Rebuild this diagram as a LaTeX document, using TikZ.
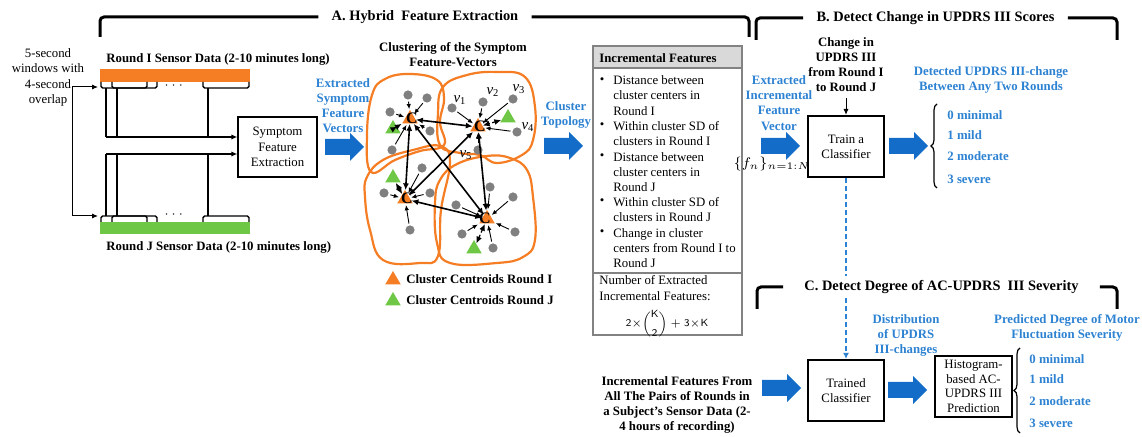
\documentclass[tikz,border=0pt]{standalone}
\usepackage{amsmath}
\usepackage{fontspec}
\setmainfont{Liberation Serif}
\usetikzlibrary{arrows.meta,shapes.geometric,decorations.pathreplacing}
\definecolor{orangeC}{RGB}{245,125,35}
\definecolor{greenC}{RGB}{110,200,70}
\definecolor{arrowblue}{RGB}{18,108,200}
\definecolor{textblue}{RGB}{45,130,210}
\definecolor{dotgray}{RGB}{128,128,128}
\definecolor{boxgray}{RGB}{130,130,130}
\definecolor{headgray}{RGB}{217,217,217}
\tikzset{
  txt/.style={font=\fontsize{6.4}{7.6}\selectfont, align=center, inner sep=0pt},
  btxt/.style={txt, font=\fontsize{6.4}{7.6}\selectfont\bfseries},
  bluetxt/.style={btxt, text=textblue},
  heading/.style={font=\fontsize{7.2}{8.6}\selectfont\bfseries, inner ysep=2pt, inner xsep=6.5pt},
  bracket/.style={line width=1.5pt, rounded corners=2pt},
  arr/.style={line width=0.5pt, -{Latex[length=3pt,width=2.6pt]}},
  win/.style={line width=0.7pt, rounded corners=0.8pt},
  procbox/.style={txt, draw, line width=1.1pt, minimum width=38pt, minimum height=30.5pt},
  blob/.style={draw=orangeC, line width=1.1pt},
  dot/.style={circle, fill=dotgray, minimum size=4.6pt, inner sep=0pt},
  cent/.style={regular polygon, regular polygon sides=3, fill=orangeC, minimum size=9pt, inner sep=0pt},
  gcent/.style={cent, fill=greenC},
  clab/.style={font=\fontsize{8}{8}\selectfont\bfseries, inner sep=0pt},
  vlab/.style={font=\fontsize{7.5}{8}\selectfont, inner sep=0pt},
  darr/.style={line width=0.45pt, -{Latex[length=2.6pt,width=2.2pt]}, shorten <=0.8pt, shorten >=0.6pt},
  clink/.style={line width=0.8pt, {Latex[length=3.4pt,width=3pt]}-{Latex[length=3.4pt,width=3pt]}},
  glink/.style={clink, line width=0.6pt, dash pattern=on 1.6pt off 1.2pt},
  dashblue/.style={draw=textblue, line width=0.8pt, dash pattern=on 2.5pt off 1.5pt, -{Latex[length=3pt,width=3pt]}},
  itembrace/.style={decorate, decoration={brace, amplitude=3pt}, line width=0.6pt},
  fatarrow/.pic={\fill[arrowblue] (0,-8) -- (25,-8) -- (25,-14) -- (39,0) -- (25,14) -- (25,8) -- (0,8) -- cycle;}
}
\begin{document}
\begin{tikzpicture}[x=0.5pt, y=-0.5pt]
  \useasboundingbox (0,0) rectangle (1142,437);
  % section headings
  \node[heading] (hA) at (425,17) {A. Hybrid\ \ Feature Extraction};
  \node[heading] (hB) at (935.5,18) {B. Detect Change in UPDRS III Scores};
  \draw[bracket] (100,37) -- (100,17) -- (hA.west);
  \draw[bracket] (hA.east) -- (749,17) -- (749,37);
  \draw[bracket] (756,40) -- (756,18) -- (hB.west);
  \draw[bracket] (hB.east) -- (1117,18) -- (1117,40);
  % sensor data rounds
  \node[fill=orangeC, minimum width=75pt, minimum height=6.5pt, inner sep=0pt] (barI) at (175,75.5) {};
  \node[fill=greenC, minimum width=75pt, minimum height=6pt, inner sep=0pt] (barJ) at (175,228) {};
  \node[btxt, anchor=west] (rI) at (106,59) {Round I Sensor Data (2-10 minutes long)};
  \node[btxt, anchor=west] (rJ) at (106,247) {Round J Sensor Data (2-10 minutes long)};
  \draw[win] (101,82) -- (101,88) -- (147,88) -- (147,82);
  \draw[win] (112,82) -- (112,88) -- (157,88) -- (157,82);
  \draw[win] (203,82) -- (203,88) -- (249,88) -- (249,82);
  \draw[win] (101,222) -- (101,216) -- (147,216) -- (147,222);
  \draw[win] (112,222) -- (112,216) -- (157,216) -- (157,222);
  \draw[win] (203,222) -- (203,216) -- (249,216) -- (249,222);
  \node[txt] (dotsI) at (175,86) {$\cdots$};
  \node[txt] (dotsJ) at (175,215) {$\cdots$};
  \node[txt] (win) at (48,77.5) {5-second\\windows with\\4-second\\overlap};
  \coordinate (wa) at (72,87);
  \coordinate (wc) at (72,216);
  \coordinate (wI) at (98,87);
  \coordinate (wJ) at (98,216);
  \draw[arr] (wa) -- (wI);
  \draw[arr] (wa) -- (wc) -- (wJ);
  \node[txt, draw, line width=0.6pt, minimum width=39.5pt, minimum height=30pt] (sfe) at (277.5,147) {Symptom\\Feature\\Extraction};
  \coordinate (tI) at (106,137);
  \coordinate (tJ) at (106,154);
  \draw[line width=0.8pt] (106,88) -- (tI);
  \draw[line width=0.8pt] (117,88) -- (117,137);
  \draw[line width=0.8pt] (208,88) -- (208,137);
  \draw[line width=0.8pt] (tJ) -- (106,216);
  \draw[line width=0.8pt] (117,154) -- (117,216);
  \draw[line width=0.8pt] (208,154) -- (208,216);
  \draw[arr, line width=0.8pt] (tI) -- (tI -| sfe.west);
  \draw[arr, line width=0.8pt] (tJ) -- (tJ -| sfe.west);
  \pic at (325,147) {fatarrow};
  \node[bluetxt] (esfv) at (343,105.5) {Extracted\\Symptom\\Feature\\Vectors};
  % clustering
  \node[btxt] (clt) at (453,54.5) {Clustering of the Symptom\\Feature-Vectors};
  \draw[blob] plot[smooth cycle, tension=0.7] coordinates {(372,95) (385,79) (410,74) (437,80) (444,98) (440,122) (444,145) (420,151) (395,160) (371,172) (367,135)};
  \draw[blob] plot[smooth cycle, tension=0.7] coordinates {(443,87) (467,75) (497,72) (525,77) (535,107) (533,140) (522,155) (497,163) (480,155) (460,153) (440,145) (438,113)};
  \draw[blob] plot[smooth cycle, tension=0.7] coordinates {(367,177) (383,160) (413,150) (440,146) (450,162) (441,210) (438,256) (420,263) (383,260) (370,230) (365,197)};
  \draw[blob] plot[smooth cycle, tension=0.7] coordinates {(440,180) (457,164) (487,156) (510,158) (527,170) (533,197) (535,240) (523,257) (497,263) (450,263) (437,243) (435,203)};
  \node[cent] (c1) at (410,119) {};
  \node[cent] (c2) at (478,127) {};
  \node[cent] (c3) at (405,199) {};
  \node[cent] (c4) at (487,219) {};
  \node[gcent] (g1) at (393,129) {};
  \node[gcent] (g2) at (508,118) {};
  \node[gcent] (g3) at (393,178) {};
  \node[gcent] (g4) at (474,249) {};
  \node[dot] (d1) at (408,95) {};
  \node[dot] (d2) at (427,98) {};
  \node[dot] (d3) at (390,112) {};
  \node[dot] (d4) at (430,131) {};
  \node[dot] (d5) at (392,150) {};
  \node[dot] (v1) at (452,108) {};
  \node[dot] (v2) at (483,102) {};
  \node[dot] (v3) at (513,99) {};
  \node[dot] (v4) at (517,132) {};
  \node[dot] (v5) at (478,150) {};
  \node[dot] (d6) at (422,168) {};
  \node[dot] (d7) at (384,193) {};
  \node[dot] (d8) at (430,193) {};
  \node[dot] (d9) at (410,230) {};
  \node[dot] (d10) at (490,187) {};
  \node[dot] (d11) at (513,197) {};
  \node[dot] (d12) at (456,205) {};
  \node[dot] (d13) at (515,232) {};
  \node[dot] (d14) at (462,234) {};
  \node[dot] (d15) at (493,248) {};
  \node[vlab] (v1l) at (460,100) {\textit{v}\textsubscript{1}};
  \node[vlab] (v2l) at (493,92) {\textit{v}\textsubscript{2}};
  \node[vlab] (v3l) at (519,89) {\textit{v}\textsubscript{3}};
  \node[vlab] (v4l) at (528,127) {\textit{v}\textsubscript{4}};
  \node[vlab] (v5l) at (466,155) {\textit{v}\textsubscript{5}};
  \draw[darr] (d1) -- (c1);
  \draw[darr] (d2) -- (c1);
  \draw[darr] (d3) -- (c1);
  \draw[darr] (d4) -- (c1);
  \draw[darr] (d5) -- (c1);
  \draw[darr] (v1) -- (c2);
  \draw[darr] (v2) -- (c2);
  \draw[darr] (v3) -- (c2);
  \draw[darr] (v4) -- (c2);
  \draw[darr] (v5) -- (c2);
  \draw[darr] (d6) -- (c3);
  \draw[darr] (d7) -- (c3);
  \draw[darr] (d8) -- (c3);
  \draw[darr] (d9) -- (c3);
  \draw[darr] (d10) -- (c4);
  \draw[darr] (d11) -- (c4);
  \draw[darr] (d12) -- (c4);
  \draw[darr] (d13) -- (c4);
  \draw[darr] (d14) -- (c4);
  \draw[darr] (d15) -- (c4);
  \draw[glink] (g1) -- (c1);
  \draw[glink] (g2) -- (c2);
  \draw[glink] (g3) -- (c3);
  \draw[glink] (g4) -- (c4);
  \draw[clink] (c1) -- (c2);
  \draw[clink] (c1) -- (c3);
  \draw[clink] (c1) -- (c4);
  \draw[clink] (c2) -- (c3);
  \draw[clink] (c2) -- (c4);
  \draw[clink] (c3) -- (c4);
  \node[clab] (c1l) at (412,118) {C};
  \node[clab] (c2l) at (480,126) {C};
  \node[clab] (c3l) at (407,198) {C};
  \node[clab] (c4l) at (485,218) {C};
  \node[cent] (legI) at (393,280) {};
  \node[gcent] (legJ) at (393,301) {};
  \node[btxt, anchor=west] (legIt) at (406,279) {Cluster Centroids Round I};
  \node[btxt, anchor=west] (legJt) at (406,300) {Cluster Centroids Round J};
  \node[bluetxt] (ctop) at (566,115) {Cluster\\Topology};
  \pic at (544,146) {fatarrow};
  % incremental features
  \node[draw=boxgray, line width=0.6pt, minimum width=74.5pt, minimum height=144.5pt, inner sep=0pt] (inc) at (667.5,190.5) {};
  \node[draw=boxgray, fill=headgray, line width=0.6pt, minimum width=74.5pt, minimum height=11pt, inner sep=0pt] (inchead) at (667.5,57) {};
  \node[btxt, anchor=west] (inct) at (599,58) {Incremental Features};
  \coordinate (divL) at (593,273);
  \coordinate (divR) at (742,273);
  \draw[boxgray, line width=0.6pt] (divL) -- (divR);
  \node[txt] (b1m) at (602,81) {\textbullet};
  \node[txt] (b2m) at (602,126) {\textbullet};
  \node[txt] (b3m) at (602,157) {\textbullet};
  \node[txt] (b4m) at (602,202) {\textbullet};
  \node[txt] (b5m) at (602,233) {\textbullet};
  \node[txt, align=left, anchor=west] (b1) at (613,95.5) {Distance between\\cluster centers in\\Round I};
  \node[txt, align=left, anchor=west] (b2) at (613,133.5) {Within cluster SD of\\clusters in Round I};
  \node[txt, align=left, anchor=west] (b3) at (613,172) {Distance between\\cluster centers in\\Round J};
  \node[txt, align=left, anchor=west] (b4) at (613,209.5) {Within cluster SD of\\clusters in Round J};
  \node[txt, align=left, anchor=west] (b5) at (613,248) {Change in cluster\\centers from Round I to\\Round J};
  \node[txt, align=left, anchor=west] (nfeat) at (599,288) {Number of Extracted\\Incremental Features:};
  \node[txt, font=\fontsize{5.2}{6}\selectfont] (form) at (667,323.5) {$\mathsf{2}{\times}\dbinom{\mathsf{K}}{\mathsf{2}}+\mathsf{3}{\times}\mathsf{K}$};
  % detect change
  \node[btxt] (chg) at (846,64.5) {Change in\\UPDRS III\\from Round I\\to Round J};
  \node[bluetxt] (eifv) at (779,103) {Extracted\\Incremental\\Feature\\Vector};
  \pic at (761,146) {fatarrow};
  \node[txt, font=\fontsize{7}{8}\selectfont] (fn) at (772,164) {$\{f_n\}_{n=1:N}$};
  \node[procbox] (train) at (846,146.5) {Train a\\Classifier};
  \draw[arr, shorten <=3pt] (chg.south) -- (train.north);
  \pic at (889,146) {fatarrow};
  \coordinate (brBt) at (937,104);
  \coordinate (brBb) at (937,188);
  \draw[itembrace] (brBb) -- (brBt);
  \node[bluetxt] (detc) at (991,80) {Detected UPDRS III-change\\Between Any Two Rounds};
  \node[bluetxt, anchor=west] (kB0) at (947,115) {0 minimal};
  \node[bluetxt, anchor=west] (kB1) at (947,135) {1 mild};
  \node[bluetxt, anchor=west] (kB2) at (947,156) {2 moderate};
  \node[bluetxt, anchor=west] (kB3) at (947,179) {3 severe};
  % severity
  \node[btxt] (allp) at (677,405) {Incremental Features From\\All The Pairs of Rounds in\\a Subject's Sensor Data (2-\\4 hours of recording)};
  \pic at (762,388) {fatarrow};
  \node[procbox] (trained) at (846,390.5) {Trained\\Classifier};
  \pic at (888,390) {fatarrow};
  \node[bluetxt] (distr) at (906,335.5) {Distribution\\of UPDRS\\III-changes};
  \node[procbox, minimum width=38.5pt, font=\fontsize{6.4}{7.3}\selectfont] (hist) at (973.5,386.5) {Histogram-\\based AC-\\UPDRS III\\Prediction};
  \node[bluetxt] (pdeg) at (1067,328) {Predicted Degree of Motor\\Fluctuation Severity};
  \coordinate (brCt) at (1020,348);
  \coordinate (brCb) at (1020,433);
  \draw[itembrace] (brCb) -- (brCt);
  \node[bluetxt, anchor=west] (kC0) at (1029,359) {0 minimal};
  \node[bluetxt, anchor=west] (kC1) at (1029,379) {1 mild};
  \node[bluetxt, anchor=west] (kC2) at (1029,401) {2 moderate};
  \node[bluetxt, anchor=west] (kC3) at (1029,423) {3 severe};
  \draw[dashblue] (train.south) -- (trained.north);
  \node[heading, inner xsep=10.5pt, fill=white] (hC) at (941.5,287) {C. Detect Degree of AC-UPDRS\ \ III Severity};
  \draw[bracket] (757,309) -- (757,287) -- (hC.west);
  \draw[bracket] (hC.east) -- (1117,287) -- (1117,309);
\end{tikzpicture}
\end{document}
